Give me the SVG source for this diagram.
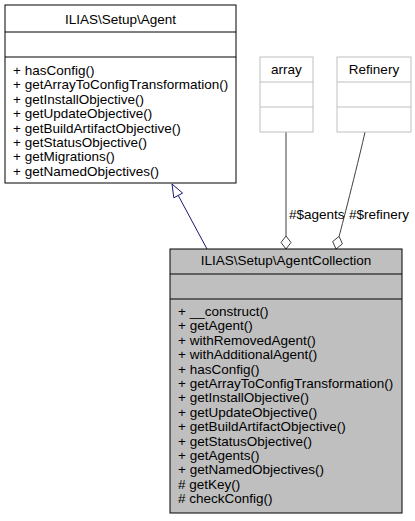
<svg xmlns="http://www.w3.org/2000/svg" width="415" height="521" viewBox="0 0 415 521">
<style>
text{font-family:"Liberation Sans",Arial,Helvetica,sans-serif;font-size:13.5px;fill:#000}
.c{text-anchor:middle}
.box{fill:#fff;stroke:#000;stroke-width:1}
.main{fill:#bfbfbf;stroke:#000;stroke-width:1}
.ext{fill:#fff;stroke:#bfbfbf;stroke-width:1}
.sep{stroke:#000;stroke-width:1}
.sepx{stroke:#bfbfbf;stroke-width:1}
.inh{fill:none;stroke:#191970;stroke-width:1}
.agg{fill:none;stroke:#404040;stroke-width:1}
.dia{fill:#fff;stroke:#404040;stroke-width:1}
.tri{fill:#fff;stroke:#191970;stroke-width:1}
</style>
<rect width="415" height="521" fill="#fff"/>
<g id="edges">
<path class="inh" d="M207,249 L178.2,195.4"/>
<polygon class="tri" points="172,184 182.6,193.1 173.8,197.8"/>
<path class="agg" d="M286,132 L286,236"/>
<polygon class="dia" points="286,249 291,242.5 286,236 281,242.5"/>
<path class="agg" d="M339.1,236.4 C343,222 360,155 365,132"/>
<polygon class="dia" points="336,249 342.4,243.9 339.1,236.4 332.7,241.5"/>
<text x="289" y="219">#$agents</text>
<text x="349" y="219">#$refinery</text>
</g>
<g id="agent">
<rect class="box" x="5" y="5" width="231" height="178"/>
<line class="sep" x1="5" y1="32" x2="236" y2="32"/>
<line class="sep" x1="5" y1="57" x2="236" y2="57"/>
<text class="c" x="120.5" y="24">ILIAS\Setup\Agent</text>
<text x="13" y="75">+ hasConfig()</text>
<text x="13" y="89.4">+ getArrayToConfigTransformation()</text>
<text x="13" y="103.8">+ getInstallObjective()</text>
<text x="13" y="118.2">+ getUpdateObjective()</text>
<text x="13" y="132.6">+ getBuildArtifactObjective()</text>
<text x="13" y="147">+ getStatusObjective()</text>
<text x="13" y="161.4">+ getMigrations()</text>
<text x="13" y="175.8">+ getNamedObjectives()</text>
</g>
<g id="array">
<rect class="ext" x="260" y="57" width="53" height="75"/>
<line class="sepx" x1="260" y1="82" x2="313" y2="82"/>
<line class="sepx" x1="260" y1="107" x2="313" y2="107"/>
<text class="c" x="286.5" y="74">array</text>
</g>
<g id="refinery">
<rect class="ext" x="337" y="57" width="74" height="75"/>
<line class="sepx" x1="337" y1="82" x2="411" y2="82"/>
<line class="sepx" x1="337" y1="107" x2="411" y2="107"/>
<text class="c" x="374" y="74">Refinery</text>
</g>
<g id="agentcollection">
<rect class="main" x="170" y="249" width="232" height="264"/>
<line class="sep" x1="170" y1="274" x2="402" y2="274"/>
<line class="sep" x1="170" y1="299" x2="402" y2="299"/>
<text class="c" x="286" y="265">ILIAS\Setup\AgentCollection</text>
<text x="178" y="316">+ __construct()</text>
<text x="178" y="330.4">+ getAgent()</text>
<text x="178" y="344.8">+ withRemovedAgent()</text>
<text x="178" y="359.2">+ withAdditionalAgent()</text>
<text x="178" y="373.6">+ hasConfig()</text>
<text x="178" y="388">+ getArrayToConfigTransformation()</text>
<text x="178" y="402.4">+ getInstallObjective()</text>
<text x="178" y="416.8">+ getUpdateObjective()</text>
<text x="178" y="431.2">+ getBuildArtifactObjective()</text>
<text x="178" y="445.6">+ getStatusObjective()</text>
<text x="178" y="460">+ getAgents()</text>
<text x="178" y="474.4">+ getNamedObjectives()</text>
<text x="178" y="488.8"># getKey()</text>
<text x="178" y="503.2"># checkConfig()</text>
</g>
</svg>
